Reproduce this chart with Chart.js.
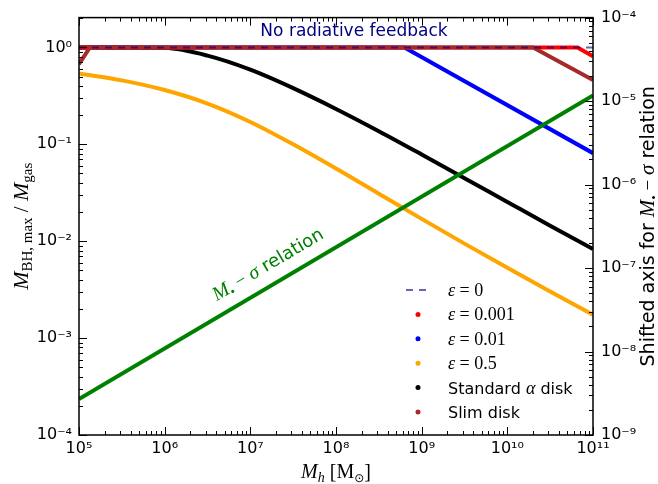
<!DOCTYPE html>
<html>
<head>
<meta charset="utf-8">
<script src="https://cdn.jsdelivr.net/npm/chart.js@4.4.0/dist/chart.umd.min.js"></script>
<style>
  body { margin: 0; background: #fff; }
</style>
</head>
<body>
<canvas id="myChart" width="658" height="484"></canvas>
<script>
// halo mass grid (M_sun) used by the two curved lines
const haloMass = [1e5, 3.16e5, 1e6, 3.16e6, 1e7, 3.16e7, 1e8, 3.16e8, 1e9, 3.16e9, 1e10, 3.16e10, 1e11];
const alphaDisk = [1, 1, 0.989, 0.822, 0.589, 0.380, 0.2317, 0.1365, 0.0785, 0.0447, 0.0254, 0.01445, 0.00832];
const eps05 = [0.537, 0.457, 0.363, 0.263, 0.170, 0.100, 0.0562, 0.0309, 0.0170, 0.00944, 0.00531, 0.00302, 0.00174];

// piecewise lines
const noFeedbackMass = [1e5, 1e11];
const noFeedback = [1, 1];
const eps0001Mass = [1e5, 6.6e10, 1e11];
const eps0001 = [1, 1, 0.81];
const eps001Mass = [1e5, 6.3e8, 1e11];
const eps001 = [1, 1, 0.081];
const slimMass = [1e5, 1.34e5, 2.0e10, 1e11];
const slimDisk = [0.67, 1, 1, 0.46];

// M-sigma relation, plotted on the shifted right axis
const msigmaMass = [1e5, 1e11];
const msigma = [2.7e-9, 1.17e-5];
const msigmaLabelAt = 2.1e7;

const xRange = [1e5, 1e11];
const yRange = [1e-4, 2.03];
const y2Range = [1e-9, 1e-4];

const sup = {'-': '⁻', '0': '⁰', '1': '¹', '2': '²', '3': '³', '4': '⁴', '5': '⁵', '6': '⁶', '7': '⁷', '8': '⁸', '9': '⁹'};

function isDecade(v) {
    const l = Math.log10(v);
    return Math.abs(l - Math.round(l)) < 1e-6;
}
function isTick(v) {
    const m = v / Math.pow(10, Math.floor(Math.log10(v) + 1e-9));
    return Math.abs(m - Math.round(m)) < 1e-6;
}
function decadeLabel(v) {
    if (!isDecade(v)) return '';
    const e = Math.round(Math.log10(v));
    return '10' + String(e).split('').map(c => sup[c]).join('');
}
function pts(xs, ys) {
    return xs.map((x, i) => ({x: x, y: ys[i]}));
}

// draws mixed-font text pieces one after the other
function rich(ctx, parts, x, y, align) {
    let w = 0;
    parts.forEach(p => { ctx.font = p.f; p.w = ctx.measureText(p.t).width; w += p.w; });
    let cx = align === 'center' ? x - w / 2 : x;
    ctx.textAlign = 'left';
    ctx.textBaseline = 'alphabetic';
    parts.forEach(p => { ctx.font = p.f; ctx.fillText(p.t, cx, y + (p.dy || 0)); cx += p.w; });
}

const serif = 'Liberation Serif';
const sans = 'DejaVu Sans';

const decor = {
    id: 'decor',
    afterDatasetsDraw(chart) {
        const ctx = chart.ctx;
        const a = chart.chartArea;
        const xs = chart.scales.x, ys = chart.scales.y, y2 = chart.scales.y2;
        ctx.save();

        // inward tick marks
        ctx.strokeStyle = '#000';
        ctx.lineWidth = 1;
        ctx.beginPath();
        xs.ticks.forEach(t => {
            if (!isTick(t.value)) return;
            const px = Math.round(xs.getPixelForValue(t.value)) + 0.5;
            const len = isDecade(t.value) ? 8 : 4;
            ctx.moveTo(px, a.bottom); ctx.lineTo(px, a.bottom - len);
            ctx.moveTo(px, a.top); ctx.lineTo(px, a.top + len);
        });
        ys.ticks.forEach(t => {
            if (!isTick(t.value)) return;
            const py = Math.round(ys.getPixelForValue(t.value)) + 0.5;
            const len = isDecade(t.value) ? 8 : 4;
            ctx.moveTo(a.left, py); ctx.lineTo(a.left + len, py);
        });
        y2.ticks.forEach(t => {
            if (!isTick(t.value)) return;
            const py = Math.round(y2.getPixelForValue(t.value)) + 0.5;
            const len = isDecade(t.value) ? 8 : 4;
            ctx.moveTo(a.right, py); ctx.lineTo(a.right - len, py);
        });
        ctx.stroke();

        // frame
        ctx.lineWidth = 1.5;
        ctx.strokeRect(a.left, a.top, a.right - a.left, a.bottom - a.top);

        // top annotation
        ctx.fillStyle = '#000080';
        ctx.font = '17px ' + sans;
        ctx.textAlign = 'center';
        ctx.textBaseline = 'alphabetic';
        ctx.fillText('No radiative feedback', (a.left + a.right) / 2 + 18, 36);

        // M-sigma label along the green line
        const p1x = xs.getPixelForValue(msigmaMass[0]), p1y = y2.getPixelForValue(msigma[0]);
        const p2x = xs.getPixelForValue(msigmaMass[1]), p2y = y2.getPixelForValue(msigma[1]);
        const ang = Math.atan2(p2y - p1y, p2x - p1x);
        const lx = xs.getPixelForValue(msigmaLabelAt);
        const ly = p1y + (lx - p1x) * (p2y - p1y) / (p2x - p1x);
        ctx.save();
        ctx.translate(lx, ly);
        ctx.rotate(ang);
        ctx.fillStyle = '#008000';
        rich(ctx, [
            {t: 'M', f: 'italic 20px ' + serif},
            {t: '•', f: '13px ' + serif, dy: 4},
            {t: ' − ', f: '19px ' + serif},
            {t: 'σ', f: 'italic 20px ' + serif},
            {t: ' relation', f: '18px ' + sans}
        ], 0, -14, 'center');
        ctx.restore();

        // axis titles
        ctx.fillStyle = '#000';
        rich(ctx, [
            {t: 'M', f: 'italic 20px ' + serif},
            {t: 'h', f: 'italic 14px ' + serif, dy: 4},
            {t: ' [M', f: '20px ' + serif},
            {t: '⊙', f: '12px DejaVu Sans', dy: 4},
            {t: ']', f: '20px ' + serif}
        ], (a.left + a.right) / 2, 478, 'center');

        ctx.save();
        ctx.translate(28, (a.top + a.bottom) / 2);
        ctx.rotate(-Math.PI / 2);
        rich(ctx, [
            {t: 'M', f: 'italic 22px ' + serif},
            {t: 'BH, max', f: '15px ' + serif, dy: 4},
            {t: ' / ', f: '21px ' + serif},
            {t: 'M', f: 'italic 22px ' + serif},
            {t: 'gas', f: '15px ' + serif, dy: 4}
        ], 0, 0, 'center');
        ctx.restore();

        ctx.save();
        ctx.translate(654, (a.top + a.bottom) / 2);
        ctx.rotate(-Math.PI / 2);
        rich(ctx, [
            {t: 'Shifted axis for ', f: '19px ' + sans},
            {t: 'M', f: 'italic 21px ' + serif},
            {t: '•', f: '13px ' + serif, dy: 4},
            {t: ' − ', f: '19px ' + serif},
            {t: 'σ', f: 'italic 21px ' + serif},
            {t: ' relation', f: '19px ' + sans}
        ], 0, 0, 'center');
        ctx.restore();

        // legend, built from the labelled datasets
        let row = 0;
        chart.data.datasets.forEach(ds => {
            if (!ds.label) return;
            const cy = 290 + row * 24.4;
            if (ds.borderDash && ds.borderDash.length) {
                ctx.strokeStyle = ds.borderColor;
                ctx.lineWidth = 2;
                ctx.setLineDash(ds.borderDash);
                ctx.beginPath();
                ctx.moveTo(406, cy); ctx.lineTo(430, cy);
                ctx.stroke();
                ctx.setLineDash([]);
            } else {
                ctx.fillStyle = ds.borderColor;
                ctx.beginPath();
                ctx.arc(418, cy, 2.5, 0, Math.PI * 2);
                ctx.fill();
            }
            ctx.fillStyle = '#000';
            if (ds.label.startsWith('ε')) {
                rich(ctx, [
                    {t: 'ε', f: 'italic 18px ' + serif},
                    {t: ds.label.slice(1), f: '18px ' + serif}
                ], 448, cy + 6, 'left');
            } else if (ds.label.indexOf('α') >= 0) {
                const i = ds.label.indexOf('α');
                rich(ctx, [
                    {t: ds.label.slice(0, i), f: '16px ' + sans},
                    {t: 'α', f: 'italic 18px ' + serif},
                    {t: ds.label.slice(i + 1), f: '16px ' + sans}
                ], 448, cy + 6, 'left');
            } else {
                rich(ctx, [{t: ds.label, f: '16px ' + sans}], 448, cy + 6, 'left');
            }
            row++;
        });

        ctx.restore();
    }
};

const ctxMain = document.getElementById('myChart');

new Chart(ctxMain, {
    type: 'line',
    data: {
        datasets: [{
                label: 'ε = 0',
                data: pts(noFeedbackMass, noFeedback),
                borderColor: 'rgba(0,0,128,0.6)',
                borderDash: [7, 6],
                borderWidth: 2,
                order: 0
            },
            {
                label: 'ε = 0.001',
                data: pts(eps0001Mass, eps0001),
                borderColor: '#ff0000',
                borderWidth: 4,
                order: 4
            },
            {
                label: 'ε = 0.01',
                data: pts(eps001Mass, eps001),
                borderColor: '#0000ff',
                borderWidth: 4,
                order: 6
            },
            {
                label: 'ε = 0.5',
                data: pts(haloMass, eps05),
                borderColor: '#ffa500',
                borderWidth: 4,
                cubicInterpolationMode: 'monotone',
                order: 7
            },
            {
                label: 'Standard α disk',
                data: pts(haloMass, alphaDisk),
                borderColor: '#000000',
                borderWidth: 4,
                cubicInterpolationMode: 'monotone',
                order: 5
            },
            {
                label: 'Slim disk',
                data: pts(slimMass, slimDisk),
                borderColor: '#a52a2a',
                borderWidth: 4,
                order: 3
            },
            {
                label: '',
                data: pts(msigmaMass, msigma),
                borderColor: '#008000',
                borderWidth: 4,
                yAxisID: 'y2',
                order: 2
            }
        ]
    },
    options: {
        responsive: false,
        animation: false,
        devicePixelRatio: 1,
        parsing: false,
        elements: {
            point: { radius: 0 },
            line: { tension: 0, fill: false, borderCapStyle: 'butt' }
        },
        layout: { padding: { top: 14, left: 0, right: 0, bottom: 0 } },
        scales: {
            x: {
                type: 'logarithmic',
                min: xRange[0],
                max: xRange[1],
                grid: { display: false, drawTicks: false },
                border: { display: false },
                afterFit: s => { s.height = 49; },
                ticks: {
                    autoSkip: false,
                    maxRotation: 0,
                    padding: 4,
                    color: '#000',
                    font: { family: sans, size: 16 },
                    callback: v => decadeLabel(v)
                }
            },
            y: {
                type: 'logarithmic',
                position: 'left',
                min: yRange[0],
                max: yRange[1],
                grid: { display: false, drawTicks: false },
                border: { display: false },
                afterFit: s => { s.width = 79; },
                ticks: {
                    autoSkip: false,
                    padding: 7,
                    color: '#000',
                    font: { family: sans, size: 16 },
                    callback: v => decadeLabel(v)
                }
            },
            y2: {
                type: 'logarithmic',
                position: 'right',
                min: y2Range[0],
                max: y2Range[1],
                grid: { display: false, drawTicks: false },
                border: { display: false },
                afterFit: s => { s.width = 65; },
                ticks: {
                    autoSkip: false,
                    padding: 8,
                    color: '#000',
                    font: { family: sans, size: 16 },
                    callback: v => decadeLabel(v)
                }
            }
        },
        plugins: {
            legend: { display: false },
            tooltip: { enabled: false }
        }
    },
    plugins: [decor]
});
</script>
</body>
</html>
